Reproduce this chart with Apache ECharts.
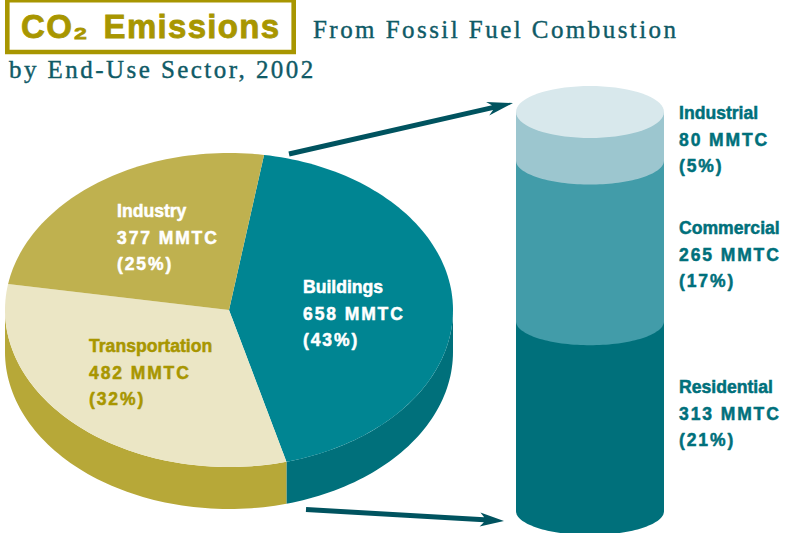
<!DOCTYPE html>
<html>
<head>
<meta charset="utf-8">
<style>
html,body{margin:0;padding:0;background:#fff}
#main{width:786px;height:533px}
text[style*="Serif"]{letter-spacing:2.45px}
text[style*="17.5px"]{letter-spacing:1.9px}
text[style*="33px"]{letter-spacing:1.3px}
</style>
<script src="https://cdn.jsdelivr.net/npm/echarts@6/dist/echarts.min.js"></script>
</head>
<body>
<div id="main"></div>
<script>
var pieNames = ['Buildings', 'Transportation', 'Industry'];
var pieValues = [658, 482, 377];
var piePercents = [43, 32, 25];
var cylNames = ['Residential', 'Commercial', 'Industrial'];
var cylValues = [313, 265, 80];
var cylPercents = [21, 17, 5];
var unit = ' MMTC';

var pieTopColors = ['#008592', '#ebe6c5', '#bfb14f'];
var pieSideColors = ['#00707b', '#b7a838', '#b7a838'];
var pieLabelColors = ['#ffffff', '#a89600', '#ffffff'];
var pieLabelX = [303, 89, 117];
var pieLabelY = [296, 355, 220];
var cylColors = ['#00707b', '#429ca9', '#9cc6cf'];
var cylCapColor = '#d8e8ec';
var cylLabelX = 679;
var cylLabelY = [396, 237, 122];
var pieGeom = {cx: 229, cy: 310, rx: 224, ry: 157, depth: 42, start: 9};
var cylGeom = {left: 516, width: 148, top: 112, bottom: 511, ry: 24};
var cylColor = '#00707b', inkColor = '#0f5a66', goldColor = '#a89600', arrowColor = '#00535f';
var sansBold = 'bold 17.6px "Liberation Sans"', sansBoldNum = 'bold 17.5px "Liberation Sans"';

function labelLines(x, y, name, value, pct, fill) {
  var lines = [name, value + unit, '(' + pct + '%)'];
  return lines.map(function (t, i) {
    return {type: 'text', silent: true, style: {
      text: t, x: x, y: y + i * 26.5, fill: fill, stroke: fill, lineWidth: 0.5,
      font: i === 0 ? sansBold : sansBoldNum, textAlign: 'left', textVerticalAlign: 'bottom'
    }};
  });
}
function pt(deg, dy) {
  var a = deg * Math.PI / 180;
  return [pieGeom.cx + pieGeom.rx * Math.sin(a), pieGeom.cy - pieGeom.ry * Math.cos(a) + (dy || 0)];
}
var pieTotal = pieValues.reduce(function (a, b) { return a + b; }, 0);
function sliceRange(idx) {
  var s = pieGeom.start;
  for (var i = 0; i < idx; i++) s += pieValues[i] / pieTotal * 360;
  return [s, s + pieValues[idx] / pieTotal * 360];
}
function arcPoints(a0, a1, dy) {
  var n = Math.max(2, Math.ceil((a1 - a0) / 1.5)), out = [];
  for (var i = 0; i <= n; i++) out.push(pt(a0 + (a1 - a0) * i / n, dy));
  return out;
}
function renderPie(params, api) {
  var idx = api.value(0);
  var r = sliceRange(idx);
  var children = [];
  var sideA = Math.max(r[0], 90), sideB = Math.min(r[1], 270);
  if (sideB > sideA) {
    children.push({type: 'polygon', silent: true,
      shape: {points: arcPoints(sideA, sideB, 0).concat(arcPoints(sideA, sideB, pieGeom.depth).reverse())},
      style: {fill: pieSideColors[idx]}});
  }
  children.push({type: 'polygon', silent: true,
    shape: {points: [[pieGeom.cx, pieGeom.cy]].concat(arcPoints(r[0], r[1], 0))},
    style: {fill: pieTopColors[idx]}});
  return {type: 'group', children: children};
}
function renderPieLabels(params, api) {
  var idx = api.value(0);
  return {type: 'group', children: labelLines(pieLabelX[idx], pieLabelY[idx],
    pieNames[idx], pieValues[idx], piePercents[idx], pieLabelColors[idx])};
}
var cylData = (function () {
  var base = 0, out = [];
  for (var i = 0; i < cylValues.length; i++) { out.push([i, base, base + cylValues[i]]); base += cylValues[i]; }
  return out;
})();
function ellipsePoints(cx, cy, rx, ry, a0, a1) {
  var out = [];
  for (var i = 0; i <= 72; i++) {
    var a = (a0 + (a1 - a0) * i / 72) * Math.PI / 180;
    out.push([cx + rx * Math.cos(a), cy + ry * Math.sin(a)]);
  }
  return out;
}
function renderCyl(params, api) {
  var idx = api.value(0);
  var l = api.coord([0, api.value(1)]), h = api.coord([1, api.value(2)]);
  var cx = (l[0] + h[0]) / 2, rx = (h[0] - l[0]) / 2;
  var pts = [[l[0], h[1]], [h[0], h[1]]].concat(ellipsePoints(cx, l[1], rx, cylGeom.ry, 0, 180));
  var children = [{type: 'polygon', silent: true, shape: {points: pts}, style: {fill: cylColors[idx]}}];
  if (idx === cylValues.length - 1) {
    children.push({type: 'polygon', silent: true,
      shape: {points: ellipsePoints(cx, h[1], rx, cylGeom.ry + 2, 0, 360)}, style: {fill: cylCapColor}});
  }
  return {type: 'group', children: children};
}
function renderCylLabels(params, api) {
  var idx = api.value(0);
  return {type: 'group', children: labelLines(cylLabelX, cylLabelY[idx],
    cylNames[idx], cylValues[idx], cylPercents[idx], cylColor)};
}
function arrowPoints(x0, y0, x1, y1, len, half, notch, w) {
  var d = Math.hypot(x1 - x0, y1 - y0), ux = (x1 - x0) / d, uy = (y1 - y0) / d, nx = -uy, ny = ux;
  function p(along, side) { return [x1 - ux * along + nx * side, y1 - uy * along + ny * side]; }
  return [[x0 + nx * w, y0 + ny * w], p(notch, w), p(len, half), [x1, y1], p(len, -half), p(notch, -w), [x0 - nx * w, y0 - ny * w]];
}
var chart = echarts.init(document.getElementById('main'), null, {renderer: 'svg', width: 786, height: 533});
var totalCyl = cylData[cylData.length - 1][2];
chart.setOption({
  animation: false,
  backgroundColor: '#ffffff',
  grid: {left: cylGeom.left, width: cylGeom.width, top: cylGeom.top, height: cylGeom.bottom - cylGeom.top},
  xAxis: {type: 'value', min: 0, max: 1, show: false},
  yAxis: {type: 'value', min: 0, max: totalCyl, show: false},
  graphic: [
    {type: 'rect', shape: {x: 7.3, y: 0.2, width: 286.4, height: 51.8}, style: {fill: 'none', stroke: goldColor, lineWidth: 4.6}},
    {type: 'text', style: {text: 'CO\u2082\u00a0\u200aEmissions', x: 21, y: 43, fill: goldColor, stroke: goldColor, lineWidth: 0.8, font: 'bold 33px "Liberation Sans"', textVerticalAlign: 'bottom'}},
    {type: 'text', style: {text: 'From Fossil Fuel Combustion', x: 313, y: 42, fill: inkColor, stroke: inkColor, lineWidth: 0.4, font: '25px "Liberation Serif"', textVerticalAlign: 'bottom'}},
    {type: 'text', style: {text: 'by End-Use Sector, 2002', x: 9, y: 82, fill: inkColor, stroke: inkColor, lineWidth: 0.4, font: '25px "Liberation Serif"', textVerticalAlign: 'bottom'}},
    {type: 'polygon', shape: {points: arrowPoints(289, 154, 513, 103, 26, 7, 21, 2.5)}, style: {fill: arrowColor}},
    {type: 'polygon', shape: {points: arrowPoints(306, 509.5, 504, 521, 24, 7, 20, 2.5)}, style: {fill: arrowColor}}
  ],
  series: [
    {type: 'custom', coordinateSystem: 'none', renderItem: renderPie, data: pieValues.map(function (v, i) { return [i, v]; }), silent: true},
    {type: 'custom', coordinateSystem: 'none', renderItem: renderPieLabels, data: pieValues.map(function (v, i) { return [i, v]; }), silent: true, z: 5},
    {type: 'custom', coordinateSystem: 'cartesian2d', renderItem: renderCyl, data: cylData, silent: true, clip: false,
      encode: {x: -1, y: [1, 2]}},
    {type: 'custom', coordinateSystem: 'none', renderItem: renderCylLabels, data: cylData, silent: true, z: 5}
  ]
});
</script>
</body>
</html>
